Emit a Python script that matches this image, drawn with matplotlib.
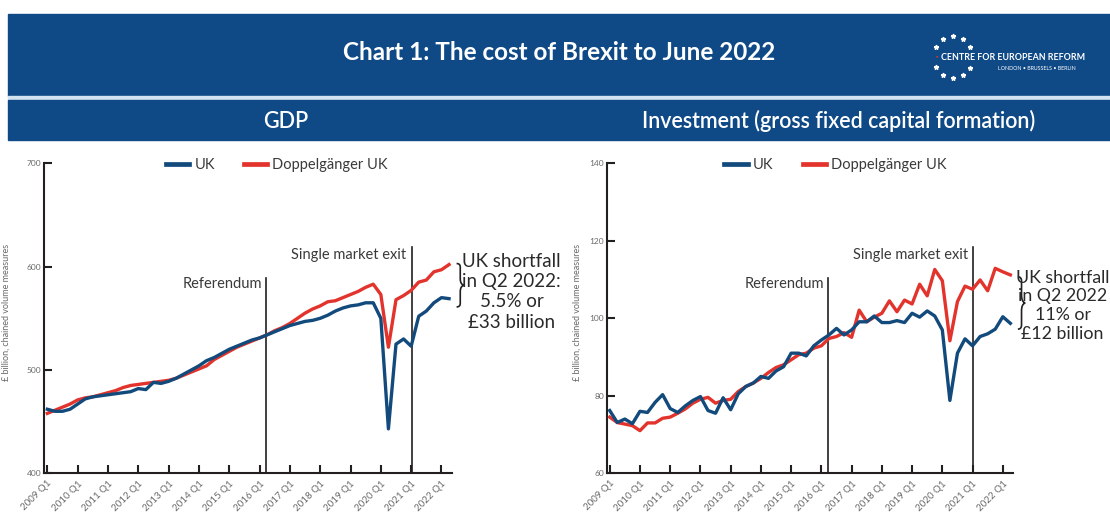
import numpy as np
import matplotlib.pyplot as plt
import matplotlib.transforms as mtransforms
from matplotlib.patches import Rectangle, PathPatch
from matplotlib.path import Path

plt.rcParams['font.family'] = ['Lato', 'DejaVu Sans']

#################### DATA #################################
tick_labels = ['2009 Q1', '2010 Q1', '2011 Q1', '2012 Q1', '2013 Q1', '2014 Q1', '2015 Q1',
               '2016 Q1', '2017 Q1', '2018 Q1', '2019 Q1', '2020 Q1', '2021 Q1', '2022 Q1']

# quarterly, 2009 Q1 .. 2022 Q2
gdp_uk = [462, 460, 460, 462, 467, 472, 474, 475, 476, 477, 478, 479, 482, 481,
          488, 487, 489, 492, 496, 500, 504, 509, 512, 516, 520, 523, 526, 529,
          531, 534, 537, 540, 543, 545, 547, 548, 550, 553, 557, 560, 562, 563,
          565, 565, 550, 443, 525, 530, 523, 552, 557, 565, 570, 569]
gdp_dop = [458, 461, 464, 467, 471, 473, 474, 476, 478, 480, 483, 485, 486, 487,
           488, 489, 490, 492, 495, 498, 501, 504, 510, 514, 518, 522, 525, 528,
           531, 534, 538, 541, 545, 550, 555, 559, 562, 566, 567, 570, 573, 576,
           580, 583, 573, 522, 568, 572, 577, 585, 587, 595, 597, 602]

inv_uk = [76.2, 73.1, 74.0, 72.8, 76.0, 75.7, 78.3, 80.3, 76.7, 75.7, 77.4, 78.8,
          79.8, 76.2, 75.5, 79.5, 76.4, 80.5, 82.4, 83.3, 85.0, 84.5, 86.4, 87.5,
          91.0, 91.0, 90.3, 92.9, 94.4, 95.7, 97.4, 95.7, 97.0, 99.1, 99.1, 100.6,
          98.9, 98.9, 99.4, 98.9, 101.3, 100.3, 101.9, 100.6, 97.0, 78.8, 91.0, 94.7,
          92.9, 95.3, 96.0, 97.2, 100.4, 98.7]
inv_dop = [74.5, 73.1, 72.7, 72.3, 71.0, 73.0, 73.0, 74.2, 74.5, 75.5, 76.6, 78.1,
           79.1, 79.6, 78.1, 78.8, 79.1, 81.1, 82.4, 83.3, 84.5, 86.0, 87.3, 88.0,
           89.3, 90.6, 91.0, 92.3, 92.9, 94.8, 95.3, 96.3, 95.1, 102.1, 99.1, 100.3,
           101.3, 104.5, 101.7, 104.7, 103.7, 108.8, 105.8, 112.6, 109.7, 94.2, 104.3, 108.3,
           107.5, 109.9, 107.1, 112.9, 112.0, 111.2]

referendum_q = 28.9   # quarter index of the vote
exit_q = 48.1         # quarter index of single market exit

gdp_note = 'UK shortfall\nin Q2 2022:\n5.5% or\n£33 billion'
inv_note = 'UK shortfall\nin Q2 2022\n11% or\n£12 billion'

################## STYLE #################################
W, H = 1110, 515
BANNER = '#0f4a87'
BLUE = '#124a7c'
RED = '#e2342c'
INK = '#231f20'
TXT = '#3a3a3a'
GREY = '#6a6a6a'


def box(x0, y0, x1, y1):
    return [x0 / W, 1 - y1 / H, (x1 - x0) / W, (y1 - y0) / H]


def brace(ax, xf, y_top, y_bot, width=0.018):
    trans = mtransforms.blended_transform_factory(ax.transAxes, ax.transData)
    ym = (y_top + y_bot) / 2
    h = y_top - y_bot
    w = width
    verts = [(xf, y_top), (xf + w * 0.5, y_top), (xf + w * 0.5, y_top - h * 0.08),
             (xf + w * 0.5, ym + h * 0.15), (xf + w * 0.5, ym + h * 0.02), (xf + w, ym),
             (xf + w * 0.5, ym - h * 0.02), (xf + w * 0.5, ym - h * 0.15),
             (xf + w * 0.5, y_bot + h * 0.08), (xf + w * 0.5, y_bot), (xf, y_bot)]
    codes = [Path.MOVETO, Path.CURVE3, Path.CURVE3, Path.LINETO, Path.CURVE3, Path.CURVE3,
             Path.CURVE3, Path.CURVE3, Path.LINETO, Path.CURVE3, Path.CURVE3]
    ax.add_patch(PathPatch(Path(verts, codes), transform=trans, fill=False,
                           lw=1.2, color=INK, clip_on=False))


def panel(ax, uk, dop, ylim, yticks, note, note_x, note_y, note_size, brace_span, leg_x):
    x = np.arange(len(uk))
    l_dop, = ax.plot(x, dop, color=RED, lw=2.4, label='Doppelgänger UK', zorder=3)
    l_uk, = ax.plot(x, uk, color=BLUE, lw=2.4, label='UK', zorder=4)
    ax.set_xlim(-0.4, 53.35)
    ax.set_ylim(ylim)
    ax.set_xticks(x[::4])
    ax.set_xticklabels(tick_labels, rotation=45, ha='right', rotation_mode='anchor',
                       fontsize=7, color=GREY)
    ax.set_yticks(yticks)
    ax.set_yticklabels([str(v) for v in yticks], fontsize=6, color=GREY)
    for s in ['top', 'right']:
        ax.spines[s].set_visible(False)
    for s in ['left', 'bottom']:
        ax.spines[s].set_linewidth(1.5)
        ax.spines[s].set_color(INK)
    ax.tick_params(axis='both', direction='in', length=5.5, width=1.5, color=INK)
    ax.tick_params(axis='x', pad=4)
    ax.tick_params(axis='y', pad=2)
    ax.set_ylabel('£ billion, chained volume measures', fontsize=6.5, color=GREY)

    ax.axvline(referendum_q, ymin=0, ymax=0.63, color=INK, lw=1.2)
    ax.axvline(exit_q, ymin=0, ymax=0.73, color=INK, lw=1.2)
    trans = mtransforms.blended_transform_factory(ax.transData, ax.transAxes)
    ax.text(referendum_q - 0.6, 0.612, 'Referendum', transform=trans, ha='right',
            va='center', fontsize=10.5, color=TXT)
    ax.text(exit_q - 0.7, 0.703, 'Single market exit', transform=trans, ha='right',
            va='center', fontsize=10.5, color=TXT)

    brace(ax, 1.012, brace_span[0], brace_span[1])
    ax.text(note_x, note_y, note, transform=ax.transAxes, ha='center', va='center',
            fontsize=note_size, color='#2a2a2a', linespacing=1.22, clip_on=False)

    ax.legend(handles=[l_uk, l_dop], ncol=2, loc='center', bbox_to_anchor=(leg_x, 0.993),
              frameon=False, fontsize=10.5, handlelength=1.6, handletextpad=0.35,
              columnspacing=2.0, labelcolor=TXT, borderaxespad=0)
    for line in ax.get_legend().get_lines():
        line.set_linewidth(3.4)


fig = plt.figure(figsize=(W / 100, H / 100), dpi=100)

################## HEADER #################################
fig.patches.append(Rectangle((8 / W, 1 - 96 / H), 1, 82 / H, transform=fig.transFigure,
                             color=BANNER, zorder=0))
fig.patches.append(Rectangle((8 / W, 1 - 100 / H), 1, 4 / H, transform=fig.transFigure,
                             color='#d3e3f0', zorder=0))
fig.patches.append(Rectangle((8 / W, 1 - 140 / H), 1, 40 / H, transform=fig.transFigure,
                             color=BANNER, zorder=0))
fig.text(559 / W, 1 - 52 / H, 'Chart 1: The cost of Brexit to June 2022', color='white',
         fontsize=17.5, fontweight='bold', ha='center', va='center')
fig.text(286 / W, 1 - 121 / H, 'GDP', color='white', fontsize=15.5, fontweight='semibold',
         ha='center', va='center')
fig.text(839 / W, 1 - 121 / H, 'Investment (gross fixed capital formation)', color='white',
         fontsize=15.5, fontweight='semibold', ha='center', va='center')

# logo
ang = np.deg2rad(np.arange(0, 360, 30))
keep = (np.abs(np.cos(ang)) < 0.99)
sx = (953 + 20 * np.cos(ang[keep])) / W
sy = 1 - (57 - 21 * np.sin(ang[keep])) / H
fig.add_artist(plt.Line2D(sx, sy, ls='none', marker='*', ms=3.4, color='white',
                          transform=fig.transFigure))
fig.text(937 / W, 1 - 57 / H, '▪', color=RED, fontsize=4, ha='center', va='center')
fig.text(941 / W, 1 - 57 / H, 'CENTRE FOR EUROPEAN REFORM', color='white', fontsize=6.4,
         fontweight='bold', ha='left', va='center')
fig.text(1076 / W, 1 - 68 / H, 'LONDON • BRUSSELS • BERLIN', color='white', fontsize=3.8,
         ha='right', va='center')

################## PANELS #################################
ax1 = fig.add_axes(box(44.3, 163.3, 451.7, 473.3))
panel(ax1, gdp_uk, gdp_dop, (400, 700), [400, 500, 600, 700], gdp_note,
      1.147, 0.585, 13.5, (gdp_dop[-1] + 1, gdp_uk[-1] - 8), 0.571)
ax1.yaxis.set_label_coords(-0.083, 0.52)

ax2 = fig.add_axes(box(606.7, 163.3, 1013, 473.3))
panel(ax2, inv_uk, inv_dop, (60, 140), [60, 80, 100, 120, 140], inv_note,
      1.122, 0.54, 12.8, (inv_dop[-1] - 0.5, inv_uk[-1] - 1.5), 0.563)
ax2.yaxis.set_label_coords(-0.062, 0.52)

fig.savefig('out.png', dpi=100)
